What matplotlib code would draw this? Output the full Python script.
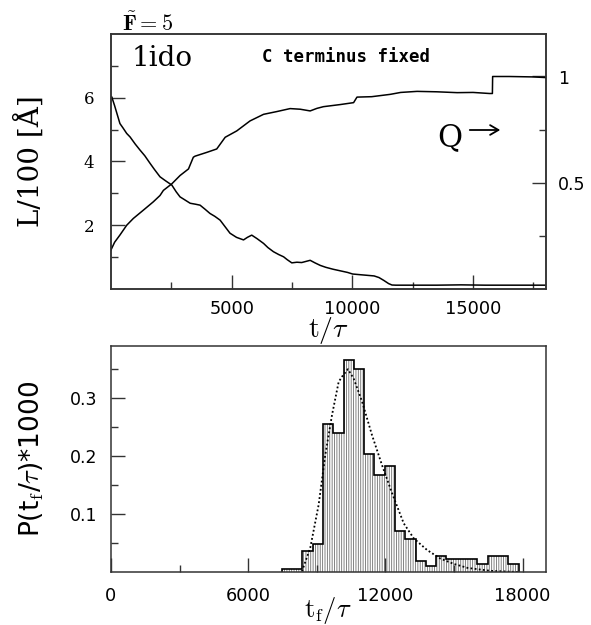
import matplotlib
matplotlib.use("Agg")
import matplotlib.pyplot as plt
from matplotlib.ticker import FixedLocator
import numpy as np

plt.rcParams['mathtext.fontset'] = 'cm'
plt.rcParams['hatch.linewidth'] = 0.6

# ---------------- data: top panel ----------------
L_t = [0, 30, 150, 370, 500, 650, 790, 1000, 1200, 1400, 1620, 1800, 2030, 2250,
       2520, 2700, 2860, 3050, 3280, 3500, 3690, 3900, 4100, 4300, 4520, 4730,
       4930, 5200, 5490, 5650, 5830, 6050, 6320, 6500, 6730, 6950, 7150, 7300,
       7490, 7700, 7900, 8250, 8450, 8670, 8900, 9200, 9500, 9800, 10010, 10300,
       10600, 10900, 11100, 11300, 11500, 11640, 11800, 12500, 13500, 14500,
       15500, 16500, 17500, 18000]
L_val = [6.0, 6.03, 5.75, 5.19, 5.05, 4.88, 4.77, 4.55, 4.36, 4.18, 3.94, 3.75,
         3.52, 3.40, 3.26, 3.05, 2.89, 2.80, 2.69, 2.66, 2.63, 2.50, 2.37, 2.28,
         2.16, 1.95, 1.75, 1.62, 1.54, 1.62, 1.69, 1.58, 1.43, 1.30, 1.17, 1.08,
         1.01, 0.92, 0.82, 0.84, 0.83, 0.90, 0.82, 0.74, 0.68, 0.62, 0.57, 0.52,
         0.47, 0.45, 0.43, 0.41, 0.36, 0.27, 0.17, 0.125, 0.12, 0.12, 0.12, 0.13,
         0.12, 0.12, 0.12, 0.12]

Q_t = [0, 150, 370, 650, 925, 1340, 1750, 2030, 2170, 2520, 2860, 3210, 3410,
       3480, 3970, 4380, 4730, 5210, 5760, 6320, 6870, 7420, 7840, 8250, 8530,
       8800, 9500, 10050, 10190, 10800, 11570, 12000, 12680, 13500, 14340,
       15000, 15680, 15800, 15810, 16500, 17500, 18000]
Q_val = [0.184, 0.22, 0.254, 0.30, 0.332, 0.371, 0.41, 0.44, 0.464, 0.495,
         0.534, 0.565, 0.62, 0.625, 0.643, 0.659, 0.714, 0.744, 0.791, 0.822,
         0.835, 0.849, 0.846, 0.838, 0.85, 0.858, 0.868, 0.877, 0.903, 0.905,
         0.916, 0.925, 0.93, 0.928, 0.924, 0.925, 0.92, 0.92, 1.0, 1.0, 0.998,
         0.995]

# ---------------- data: bottom panel ----------------
bin_start = 7470
bin_width = 450
hist_vals = [0.006, 0.006, 0.036, 0.049, 0.255, 0.240, 0.365, 0.351, 0.204,
             0.167, 0.183, 0.071, 0.057, 0.019, 0.010, 0.028, 0.022, 0.022,
             0.022, 0.013, 0.028, 0.028, 0.013]

fit_t = [8350, 8715, 9080, 9370, 9665, 9955, 10100, 10360, 10610, 10980, 11415,
         11855, 12290, 12800, 13240, 13820, 14410, 14990, 15600, 16600, 17800]
fit_p = [0.001, 0.042, 0.116, 0.202, 0.271, 0.328, 0.337, 0.350, 0.334, 0.294,
         0.236, 0.184, 0.136, 0.084, 0.058, 0.038, 0.023, 0.014, 0.007, 0.002,
         0.0]

W, H = 591, 625
fig = plt.figure(figsize=(W / 100, H / 100), dpi=100)

def fx(px):
    return px / W

def fy(py):
    return 1 - py / H

spine_c = '#333333'

# ---------------- top panel ----------------
ax1 = fig.add_axes([fx(111), fy(289), fx(545.5) - fx(111), fy(34) - fy(289)])
ax1.plot(L_t, L_val, color='black', lw=1.1)
ax1.set_xlim(0, 18000)
ax1.set_ylim(0, 8)
ax1.xaxis.set_major_locator(FixedLocator([5000, 10000, 15000]))
ax1.xaxis.set_minor_locator(FixedLocator([2500, 7500, 12500, 17500]))
ax1.yaxis.set_major_locator(FixedLocator([2, 4, 6]))
ax1.yaxis.set_minor_locator(FixedLocator([1, 3, 5, 7]))
ax1.tick_params(which='both', direction='in', top=False, right=False, color=spine_c)
ax1.tick_params(which='major', length=10, width=1)
ax1.tick_params(which='minor', length=5, width=1)
ax1.tick_params(axis='x', which='major', pad=8, labelsize=12.8)
ax1.tick_params(axis='y', which='major', pad=12, labelsize=12)
for lab in ax1.get_yticklabels():
    lab.set_family('DejaVu Serif')
for s in ax1.spines.values():
    s.set_color(spine_c)
    s.set_linewidth(1.1)

axq = ax1.twinx()
axq.plot(Q_t, Q_val, color='black', lw=1.1)
axq.set_ylim(0, 1.2)
axq.yaxis.set_major_locator(FixedLocator([0.5, 1.0]))
axq.yaxis.set_minor_locator(FixedLocator([0.25, 0.75]))
axq.set_yticklabels(['0.5', '1'])
axq.tick_params(which='both', direction='in', color=spine_c)
axq.tick_params(which='major', length=10, width=1, pad=9, labelsize=12.5)
axq.tick_params(which='minor', length=5, width=1)
for s in axq.spines.values():
    s.set_color(spine_c)
    s.set_linewidth(1.1)

fig.text(fx(328), fy(331), r'$\mathrm{t}/\tau$', fontsize=20, ha='center', va='center')
fig.text(fx(30), fy(161), 'L/100 [Å]', family='DejaVu Serif', fontsize=20,
         rotation=90, ha='center', va='center')
fig.text(fx(122), fy(31), r'$\tilde{\mathbf{F}}\mathbf{=5}$', fontsize=16,
         ha='left', va='baseline')
fig.text(fx(132), fy(66), '1ido', family='DejaVu Serif', fontsize=20,
         ha='left', va='baseline')
fig.text(fx(262), fy(57), 'C terminus fixed', family='DejaVu Sans Mono',
         weight='bold', fontsize=12.5, ha='left', va='center')
fig.text(fx(437), fy(146), 'Q', family='DejaVu Serif', fontsize=22,
         ha='left', va='baseline')
fig.add_artist(matplotlib.patches.FancyArrowPatch(
    (fx(467), fy(130)), (fx(503), fy(130)), transform=fig.transFigure,
    arrowstyle='->,head_length=6,head_width=3.5', lw=1.3, color='black'))

# ---------------- bottom panel ----------------
ax2 = fig.add_axes([fx(111), fy(572), fx(545.5) - fx(111), fy(346) - fy(572)])
edges = bin_start + bin_width * np.arange(len(hist_vals) + 1)
ax2.stairs(hist_vals, edges, fill=True, facecolor='white', edgecolor='#6e6e6e',
           hatch='|||||||', lw=0)
ax2.stairs(hist_vals, edges, baseline=0, color='black', lw=1.2)
ax2.plot(fit_t, fit_p, color='black', lw=1.3, linestyle=(0, (1, 1.3)))
ax2.set_xlim(0, 19000)
ax2.set_ylim(0, 0.39)
ax2.xaxis.set_major_locator(FixedLocator([0, 6000, 12000, 18000]))
ax2.xaxis.set_minor_locator(FixedLocator([3000, 9000, 15000]))
ax2.yaxis.set_major_locator(FixedLocator([0.1, 0.2, 0.3]))
ax2.yaxis.set_minor_locator(FixedLocator([0.05, 0.15, 0.25, 0.35]))
ax2.set_xticklabels(['0', '6000', '12000', '18000'])
ax2.set_yticklabels(['0.1', '0.2', '0.3'])
ax2.tick_params(which='both', direction='in', top=False, right=False, color=spine_c)
ax2.tick_params(which='major', length=10, width=1)
ax2.tick_params(which='minor', length=5, width=1)
ax2.tick_params(axis='x', which='major', pad=11, labelsize=12.8)
ax2.tick_params(axis='y', which='major', pad=10, labelsize=12.5)
for s in ax2.spines.values():
    s.set_color(spine_c)
    s.set_linewidth(1.1)

fig.text(fx(328), fy(611), r'$\mathrm{t_f}/\tau$', fontsize=19, ha='center', va='center')
fig.text(fx(32), fy(459), r'P(t$_\mathrm{f}$/$\tau$)*1000', family='DejaVu Sans',
         fontsize=19, rotation=90, ha='center', va='center')

fig.savefig('out.png', dpi=100)
